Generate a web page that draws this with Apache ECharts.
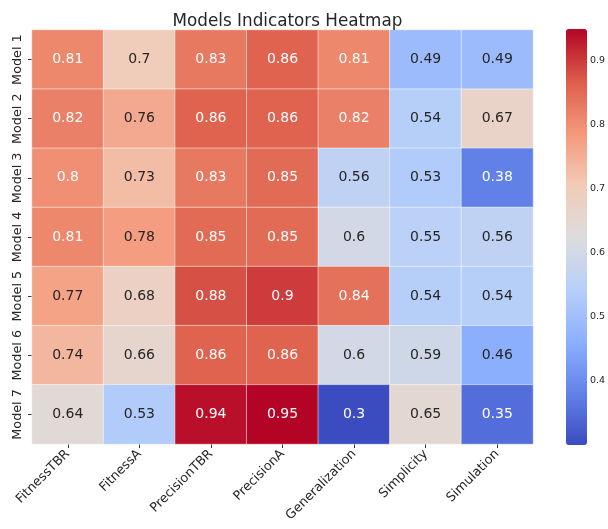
<!DOCTYPE html>
<html>
<head>
<meta charset="utf-8">
<script src="https://cdn.jsdelivr.net/npm/echarts@6/dist/echarts.min.js"></script>
<style>
  html, body { margin: 0; padding: 0; background: #ffffff; }
  #chart { width: 608px; height: 529px; }
</style>
</head>
<body>
<div id="chart"></div>
<script>
// Metrics (columns) and models (rows)
const metrics = ['FitnessTBR', 'FitnessA', 'PrecisionTBR', 'PrecisionA', 'Generalization', 'Simplicity', 'Simulation'];
const models = ['Model 1', 'Model 2', 'Model 3', 'Model 4', 'Model 5', 'Model 6', 'Model 7'];

// One score array per model, in metric order
const model1 = [0.81, 0.7, 0.83, 0.86, 0.81, 0.49, 0.49];
const model2 = [0.82, 0.76, 0.86, 0.86, 0.82, 0.54, 0.67];
const model3 = [0.8, 0.73, 0.83, 0.85, 0.56, 0.53, 0.38];
const model4 = [0.81, 0.78, 0.85, 0.85, 0.6, 0.55, 0.56];
const model5 = [0.77, 0.68, 0.88, 0.9, 0.84, 0.54, 0.54];
const model6 = [0.74, 0.66, 0.86, 0.86, 0.6, 0.59, 0.46];
const model7 = [0.64, 0.53, 0.94, 0.95, 0.3, 0.65, 0.35];
const scores = [model1, model2, model3, model4, model5, model6, model7];

// Colour bar tick labels
const colorbarTicks = [0.4, 0.5, 0.6, 0.7, 0.8, 0.9];

// Diverging blue-grey-red scale, evenly spaced stops
const coolwarm = ['#3b4cc0', '#6282ea', '#8db0fe', '#b8d0f9', '#dddcdc',
                  '#f2cbb7', '#f4987a', '#dc5d4a', '#b40426'];

let vMin = Infinity, vMax = -Infinity;
scores.forEach(r => r.forEach(v => { vMin = Math.min(vMin, v); vMax = Math.max(vMax, v); }));

function hexToRgb(h) {
  return [parseInt(h.slice(1, 3), 16), parseInt(h.slice(3, 5), 16), parseInt(h.slice(5, 7), 16)];
}
function scaleColor(v) {
  const t = Math.min(1, Math.max(0, (v - vMin) / (vMax - vMin))) * (coolwarm.length - 1);
  const i = Math.min(coolwarm.length - 2, Math.floor(t));
  const f = t - i;
  const a = hexToRgb(coolwarm[i]), b = hexToRgb(coolwarm[i + 1]);
  return a.map((c, k) => c + (b[k] - c) * f);
}
// Dark text on light cells, white text on dark cells (relative luminance)
function textColor(v) {
  const lin = scaleColor(v).map(c => {
    c /= 255;
    return c <= 0.03928 ? c / 12.92 : Math.pow((c + 0.055) / 1.055, 2.4);
  });
  const lum = 0.2126 * lin[0] + 0.7152 * lin[1] + 0.0722 * lin[2];
  return lum > 0.408 ? '#262626' : '#ffffff';
}

const cells = [];
scores.forEach((row, r) => row.forEach((v, c) => {
  cells.push({ value: [c, r, v], label: { color: textColor(v) } });
}));

const font = 'DejaVu Sans';
const gridLeft = 32, gridTop = 30, gridW = 501, gridH = 414;
const cbLeft = 566, cbTop = 29, cbW = 21, cbH = 416;

const chart = echarts.init(document.getElementById('chart'), null, { renderer: 'canvas' });
chart.setOption({
  animation: false,
  backgroundColor: '#ffffff',
  title: {
    text: 'Models Indicators Heatmap',
    left: gridLeft + gridW / 2,
    textAlign: 'center',
    top: 8,
    textStyle: { fontFamily: font, fontSize: 16.8, fontWeight: 'normal', color: '#262626' }
  },
  grid: [
    { left: gridLeft, top: gridTop, width: gridW, height: gridH },
    { left: cbLeft, top: cbTop, width: cbW, height: cbH }
  ],
  xAxis: [
    {
      type: 'category', data: metrics, gridIndex: 0,
      axisLine: { show: false },
      axisTick: { show: true, alignWithLabel: true, length: 4, lineStyle: { color: '#333333' } },
      splitLine: { show: false },
      axisLabel: { rotate: 45, margin: 8, interval: 0, fontFamily: font, fontSize: 12.8, color: '#262626' }
    },
    { type: 'value', gridIndex: 1, show: false, min: 0, max: 1 }
  ],
  yAxis: [
    {
      type: 'category', data: models, gridIndex: 0, inverse: true,
      axisLine: { show: false },
      axisTick: { show: true, alignWithLabel: true, length: 4, lineStyle: { color: '#333333' } },
      splitLine: { show: false },
      axisLabel: { rotate: 90, margin: 8, interval: 0, fontFamily: font, fontSize: 12.8, color: '#262626' }
    },
    {
      type: 'value', gridIndex: 1, position: 'right', min: vMin, max: vMax,
      axisLine: { show: false },
      splitLine: { show: false },
      axisTick: { show: true, length: 3, customValues: colorbarTicks, lineStyle: { color: '#333333' } },
      axisLabel: { show: true, margin: 4, customValues: colorbarTicks, fontFamily: font, fontSize: 9.5, color: '#262626' }
    }
  ],
  visualMap: {
    type: 'continuous',
    min: vMin, max: vMax,
    dimension: 2,
    seriesIndex: 0,
    calculable: false,
    hoverLink: false,
    orient: 'vertical',
    left: cbLeft, top: cbTop,
    itemWidth: cbW, itemHeight: cbH,
    padding: 0,
    text: null,
    showLabel: false,
    inRange: { color: coolwarm }
  },
  series: [{
    type: 'heatmap',
    xAxisIndex: 0, yAxisIndex: 0,
    data: cells,
    itemStyle: { borderColor: 'rgba(255,255,255,0.5)', borderWidth: 1 },
    label: {
      show: true,
      fontFamily: font, fontSize: 14,
      formatter: p => String(p.value[2])
    },
    emphasis: { disabled: true }
  }]
});
</script>
</body>
</html>
